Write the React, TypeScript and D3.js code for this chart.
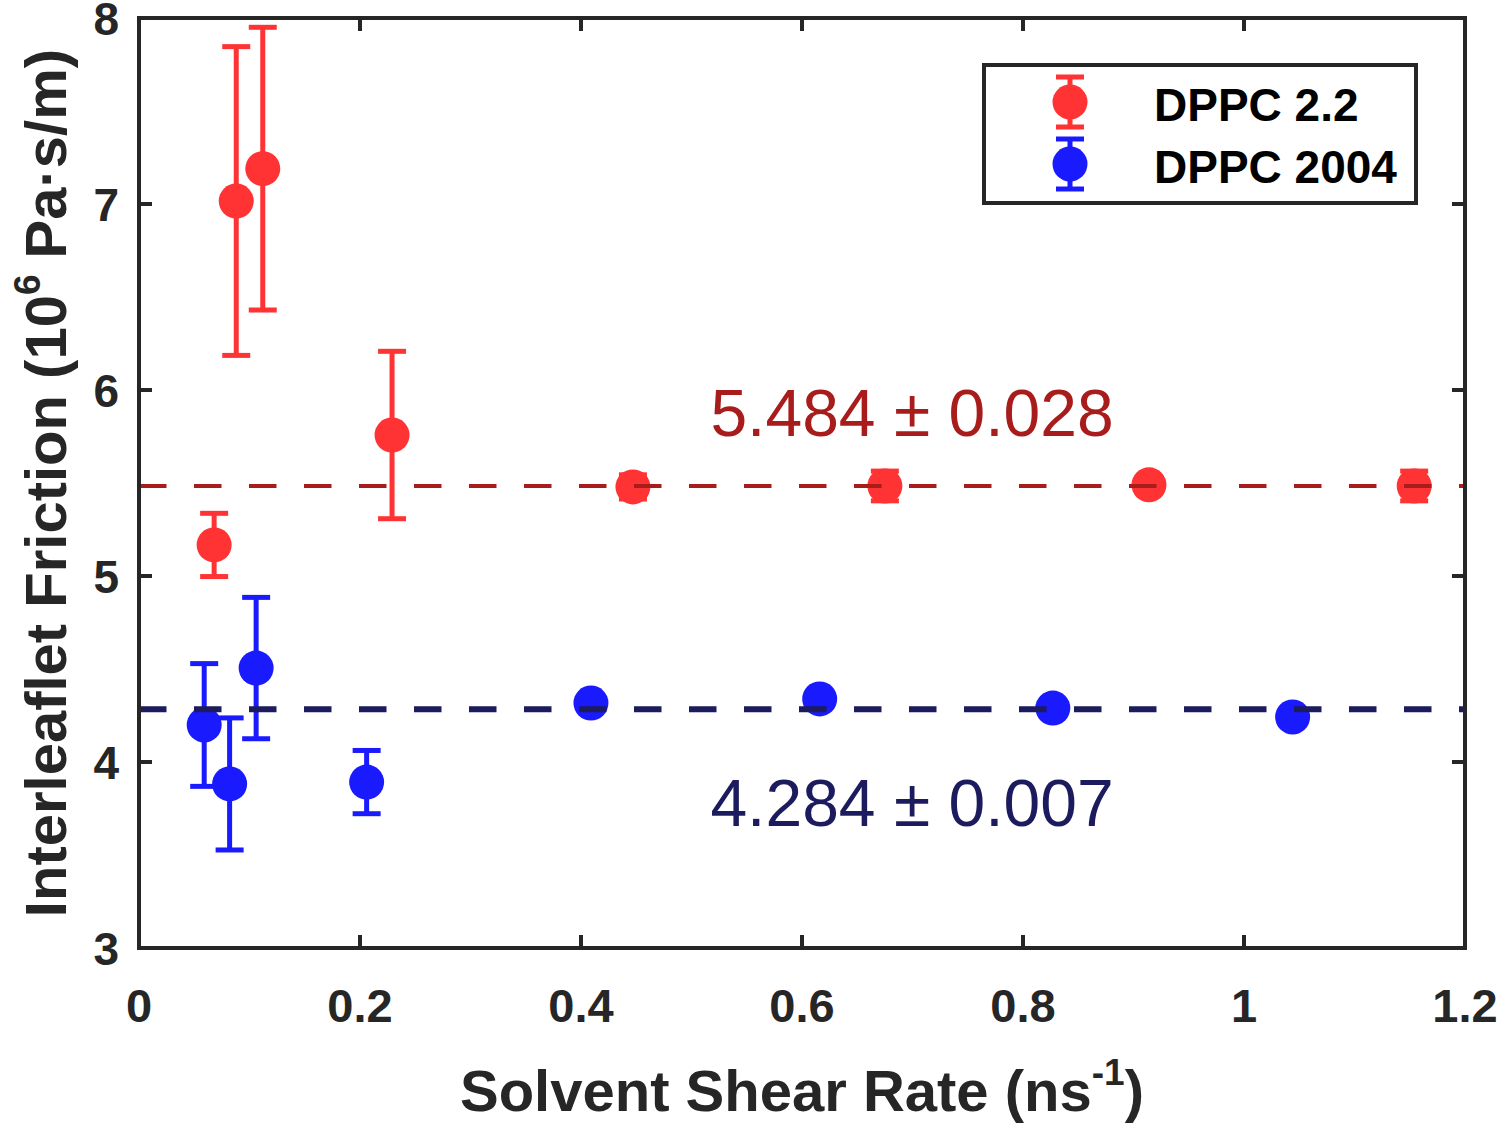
import * as d3 from 'd3';

const redX = [0.068, 0.088, 0.112, 0.229, 0.447, 0.675, 0.914, 1.154];
const redY = [5.167, 7.016, 7.19, 5.758, 5.479, 5.484, 5.49, 5.484];
const redErr = [0.17, 0.83, 0.76, 0.45, 0.065, 0.08, 0.01, 0.08];

const blueX = [0.059, 0.082, 0.106, 0.206, 0.409, 0.616, 0.827, 1.044];
const blueY = [4.199, 3.882, 4.505, 3.892, 4.317, 4.339, 4.29, 4.242];
const blueErr = [0.33, 0.355, 0.38, 0.17, 0.01, 0.01, 0.01, 0.01];

const redMean = 5.484;
const blueMean = 4.284;
const redLabel = '5.484 ± 0.028';
const blueLabel = '4.284 ± 0.007';

const xTicks = [0, 0.2, 0.4, 0.6, 0.8, 1, 1.2];
const yTicks = [3, 4, 5, 6, 7, 8];
const seriesNames = ['DPPC 2.2', 'DPPC 2004'];

const width = 1500;
const height = 1126;
const margin = { top: 18, right: 35, bottom: 178, left: 139 };
const font = '"Liberation Sans", Arial, sans-serif';
const axisColor = '#262626';
const redColor = '#FF3333';
const blueColor = '#1A1AFF';
const redLine = '#A81C1C';
const blueLine = '#1B1B5E';

function Series({ xs, ys, errs, color, x, y }: any) {
  return (
    <g>
      {xs.map((xv: number, i: number) => {
        const cx = x(xv);
        const top = y(ys[i] + errs[i]);
        const bot = y(ys[i] - errs[i]);
        return (
          <g key={i} stroke={color} strokeWidth={5}>
            <line x1={cx} x2={cx} y1={top} y2={bot} />
            <line x1={cx - 14} x2={cx + 14} y1={top} y2={top} />
            <line x1={cx - 14} x2={cx + 14} y1={bot} y2={bot} />
            <circle cx={cx} cy={y(ys[i])} r={17.5} fill={color} stroke="none" />
          </g>
        );
      })}
    </g>
  );
}

export default function App() {
  const x = d3.scaleLinear().domain([0, 1.2]).range([margin.left, width - margin.right]);
  const y = d3.scaleLinear().domain([3, 8]).range([height - margin.bottom, margin.top]);
  const [x0, x1] = x.range();
  const [y0, y1] = y.range();

  const legendItems = [
    { name: seriesNames[0], color: redColor },
    { name: seriesNames[1], color: blueColor },
  ];

  return (
    <svg
      width={width}
      height={height}
      style={{ position: 'absolute', left: 0, top: 0, background: '#fff' }}
      fontFamily={font}
    >
      <rect x={0} y={0} width={width} height={height} fill="#fff" />

      <text x={912} y={y(redMean) - 50} textAnchor="middle" fontSize={66} fill={redLine}>
        {redLabel}
      </text>
      <text x={912} y={y(blueMean) + 117} textAnchor="middle" fontSize={66} fill={blueLine}>
        {blueLabel}
      </text>

      <Series xs={redX} ys={redY} errs={redErr} color={redColor} x={x} y={y} />
      <Series xs={blueX} ys={blueY} errs={blueErr} color={blueColor} x={x} y={y} />

      {/* mean lines, drawn over the markers */}
      <line x1={x0} x2={x1} y1={y(redMean)} y2={y(redMean)} stroke={redLine} strokeWidth={4} strokeDasharray="27.5,27.5" />
      <line x1={x0} x2={x1} y1={y(blueMean)} y2={y(blueMean)} stroke={blueLine} strokeWidth={6} strokeDasharray="27.5,27.5" />

      {/* axes box */}
      <rect x={x0} y={y1} width={x1 - x0} height={y0 - y1} fill="none" stroke={axisColor} strokeWidth={4} />
      {xTicks.map((t) => (
        <g key={'x' + t}>
          <line x1={x(t)} x2={x(t)} y1={y0} y2={y0 - 13} stroke={axisColor} strokeWidth={4} />
          <line x1={x(t)} x2={x(t)} y1={y1} y2={y1 + 13} stroke={axisColor} strokeWidth={4} />
          <text x={x(t)} y={y0 + 74} textAnchor="middle" fontSize={47} fontWeight="bold" fill={axisColor}>
            {t}
          </text>
        </g>
      ))}
      {yTicks.map((t) => (
        <g key={'y' + t}>
          <line x1={x0} x2={x0 + 13} y1={y(t)} y2={y(t)} stroke={axisColor} strokeWidth={4} />
          <line x1={x1} x2={x1 - 13} y1={y(t)} y2={y(t)} stroke={axisColor} strokeWidth={4} />
          <text x={119} y={y(t) + 17} textAnchor="end" fontSize={46} fontWeight="bold" fill={axisColor}>
            {t}
          </text>
        </g>
      ))}

      {/* axis titles */}
      <text x={(x0 + x1) / 2} y={1111} textAnchor="middle" fontSize={58} fontWeight="bold" fill={axisColor}>
        Solvent Shear Rate (ns
        <tspan fontSize={37} dy={-26}>-1</tspan>
        <tspan dy={26}>)</tspan>
      </text>
      <text
        transform={`translate(66,${(y0 + y1) / 2}) rotate(-90)`}
        textAnchor="middle"
        fontSize={58}
        fontWeight="bold"
        fill={axisColor}
      >
        Interleaflet Friction (10
        <tspan fontSize={37} dy={-26}>6</tspan>
        <tspan dy={26}> Pa·s/m)</tspan>
      </text>

      {/* legend */}
      <rect x={984} y={65} width={432} height={138} fill="#fff" stroke={axisColor} strokeWidth={4} />
      {legendItems.map((d, i) => {
        const cy = 102 + i * 62;
        return (
          <g key={d.name}>
            <g stroke={d.color} strokeWidth={5}>
              <line x1={1070} x2={1070} y1={cy - 25} y2={cy + 25} />
              <line x1={1056} x2={1084} y1={cy - 25} y2={cy - 25} />
              <line x1={1056} x2={1084} y1={cy + 25} y2={cy + 25} />
            </g>
            <circle cx={1070} cy={cy} r={17.5} fill={d.color} />
            <text x={1154} y={cy + 19} fontSize={46} fontWeight="bold" fill="#000">
              {d.name}
            </text>
          </g>
        );
      })}
    </svg>
  );
}
